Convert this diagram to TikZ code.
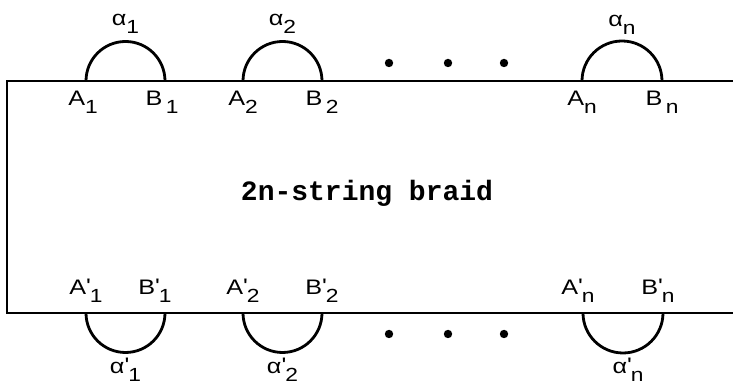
\documentclass[tikz,border=0pt]{standalone}
\usepackage{fontspec}
\newfontfamily\labelfont[FakeStretch=1.2]{Liberation Sans}
\newfontfamily\braidfont{Liberation Mono}
\usetikzlibrary{positioning}

\newcommand{\sbs}[1]{\raisebox{-0.38em}{\fontsize{9.5}{9.5}\selectfont #1}}
\newcommand{\prm}{\raisebox{0.05em}{'}\kern-0.05em}

\begin{document}
\begin{tikzpicture}[
  x=0.5pt, y=0.5pt,
  lbl/.style={inner sep=0pt, font=\labelfont\fontsize{10.5}{10.5}\selectfont},
  strand/.style={line width=1.4pt},
  edge/.style={line width=0.9pt},
  dotn/.style={circle, fill, inner sep=0pt, minimum size=4.2pt}
]
\useasboundingbox (0,0) rectangle (733,389);
% box of the braid, open to the right
\draw[edge] (733,308) -- (7,308) -- (7,76) -- (733,76);
\node[font=\braidfont\bfseries\fontsize{14}{14}\selectfont] (braid) at (367,196) {2n-string braid};
% end points on the top edge
\coordinate (A1) at (86,308);
\coordinate (B1) at (165,308);
\coordinate (A2) at (243,308);
\coordinate (B2) at (322,308);
\coordinate (An) at (582,308);
\coordinate (Bn) at (662,308);
\coordinate (top1) at (125.5,347.5);
\coordinate (top2) at (282.5,347.5);
\coordinate (topn) at (622,348);
% end points on the bottom edge
\coordinate (A1p) at (86,76);
\coordinate (B1p) at (165,76);
\coordinate (A2p) at (243,76);
\coordinate (B2p) at (322,76);
\coordinate (Anp) at (583,76);
\coordinate (Bnp) at (663,76);
\coordinate (bot1) at (125.5,36.5);
\coordinate (bot2) at (282.5,36.5);
\coordinate (botn) at (623,36);
% arcs
\draw[strand] (A1) arc[start angle=180, end angle=0, radius=19.75pt];
\draw[strand] (A2) arc[start angle=180, end angle=0, radius=19.75pt];
\draw[strand] (An) arc[start angle=180, end angle=0, radius=20pt];
\draw[strand] (A1p) arc[start angle=180, end angle=360, radius=19.75pt];
\draw[strand] (A2p) arc[start angle=180, end angle=360, radius=19.75pt];
\draw[strand] (Anp) arc[start angle=180, end angle=360, radius=20pt];
% labels of the top edge
\node[lbl, below=5pt of A1, xshift=-1.5pt] (lA1) {A\sbs{1}};
\node[lbl, below=5pt of B1, xshift=-1.5pt] (lB1) {B\,\sbs{1}};
\node[lbl, below=5pt of A2] (lA2) {A\sbs{2}};
\node[lbl, below=5pt of B2] (lB2) {B\,\sbs{2}};
\node[lbl, below=5pt of An] (lAn) {A\sbs{n}};
\node[lbl, below=5pt of Bn] (lBn) {B\,\sbs{n}};
\node[lbl, above=4pt of top1] (al1) {α\sbs{1}};
\node[lbl, above=4pt of top2] (al2) {α\sbs{2}};
\node[lbl, above=3pt of topn] (aln) {α\sbs{n}};
% labels of the bottom edge
\node[lbl, above=5pt of A1p] (lA1p) {A\prm\sbs{1}};
\node[lbl, above=5pt of B1p, xshift=-5pt] (lB1p) {B\prm\sbs{1}};
\node[lbl, above=5pt of A2p] (lA2p) {A\prm\sbs{2}};
\node[lbl, above=5pt of B2p] (lB2p) {B\prm\sbs{2}};
\node[lbl, above=5pt of Anp, xshift=-2.5pt] (lAnp) {A\prm\sbs{n}};
\node[lbl, above=5pt of Bnp, xshift=-2.5pt] (lBnp) {B\prm\sbs{n}};
\node[lbl, below=2.5pt of bot1] (al1p) {α\prm\sbs{1}};
\node[lbl, below=2.5pt of bot2] (al2p) {α\prm\sbs{2}};
\node[lbl, below=2.5pt of botn, xshift=2.5pt] (alnp) {α\prm\sbs{n}};
% dots
\node[dotn] (tdot1) at (389,326) {};
\node[dotn] (tdot2) at (448,326) {};
\node[dotn] (tdot3) at (504,326) {};
\node[dotn] (bdot1) at (389,55) {};
\node[dotn] (bdot2) at (448,55) {};
\node[dotn] (bdot3) at (504,55) {};
\end{tikzpicture}
\end{document}
